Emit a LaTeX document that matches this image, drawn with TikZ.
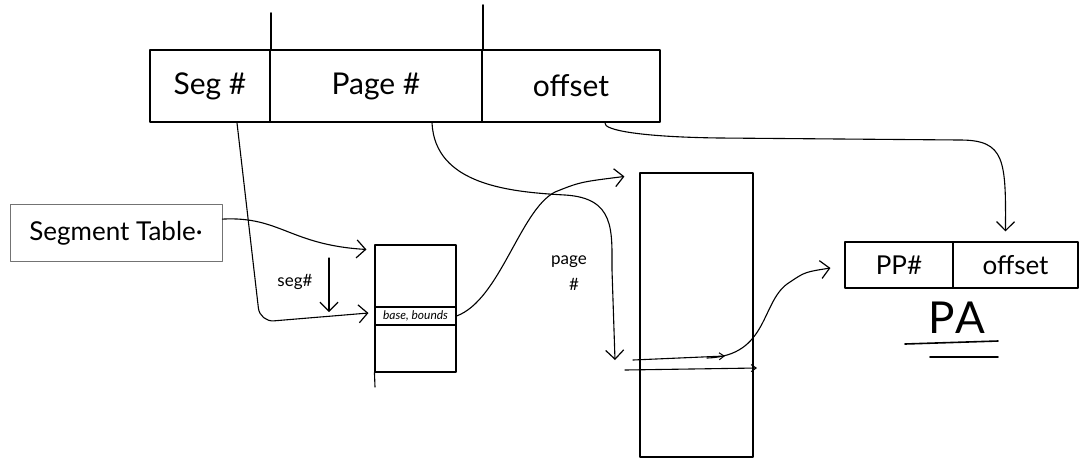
\documentclass[tikz,border=0pt]{standalone}
\usepackage{fontspec}
\setmainfont{Lato}
\usetikzlibrary{arrows.meta,calc}
\begin{document}
\begin{tikzpicture}[x=1pt,y=-1pt, line cap=round, line join=round,
  thick box/.style={draw, line width=1.8pt, inner sep=0pt},
  thin box/.style={draw, line width=1.1pt, inner sep=0pt},
  faint box/.style={draw=black!55, line width=0.8pt, inner sep=0pt},
  conn/.style={line width=1.1pt, -{Straight Barb[length=9pt,width=18pt,line width=1.2pt]}},
  small conn/.style={line width=1.1pt, -{Straight Barb[length=5pt,width=7pt,line width=1pt]}},
  big/.style={font=\fontsize{30}{36}\selectfont},
  mid/.style={font=\fontsize{26}{30}\selectfont},
  lab/.style={font=\fontsize{17}{18}\selectfont, inner sep=1pt}]
\useasboundingbox (0,0) rectangle (1089,459);

% virtual address
\node[thick box, minimum width=120pt, minimum height=72pt, big] (seg) at (210,86) {Seg \#};
\node[thick box, minimum width=212pt, minimum height=72pt, big] (page) at (376,86) {Page \#};
\node[thick box, minimum width=178pt, minimum height=72pt, big] (off) at (571,86) {offset};
\draw[line width=1.8pt] (seg.north east) -- ++(0,-36);
\draw[line width=1.8pt] (page.north east) -- ++(0,-44);

% segment table label
\node[faint box, minimum width=212pt, minimum height=57pt, mid] (st) at (116,233) {Segment Table·};

% segment table
\node[thin box, minimum width=81pt, minimum height=62pt] (segtop) at (415.5,276) {};
\node[thin box, minimum width=81pt, minimum height=18pt, font=\fontsize{12}{13}\selectfont\itshape] (segrow) at (415.5,316) {base, bounds};
\node[thin box, minimum width=81pt, minimum height=47pt] (segbot) at (415.5,348.5) {};
\coordinate (segleft) at (375,387);
\draw[line width=1.1pt] (segbot.south west) -- (segleft);

\node[lab] (seglab) at (295,282) {seg\#};
\coordinate (sa1) at (329,258);
\coordinate (sa2) at (329,312);
\draw[conn] (sa1) -- (sa2);

% page table
\node[thin box, minimum width=113pt, minimum height=284pt] (pt) at (696.5,315) {};
\node[lab] (pagelab) at (569,262) {page};
\node[lab] (pagenum) at (574,284) {\#};
\coordinate (r1a) at (633,360);
\coordinate (r1b) at (725,356);
\coordinate (r2a) at (625,370);
\coordinate (r2b) at (757,368);
\draw[small conn] (r1a) -- (r1b);
\draw[small conn] (r2a) -- (r2b);

% physical address
\node[thin box, minimum width=108pt, minimum height=46pt, mid] (ppn) at (899,265) {PP\#};
\node[thin box, minimum width=125pt, minimum height=46pt, mid] (paoff) at (1015.5,265) {offset};
\node[font=\fontsize{44}{50}\selectfont\addfontfeature{LetterSpace=8}, inner sep=0pt] (pa) at (957,318) {PA};
\coordinate (u1a) at (905,344);
\coordinate (u1b) at (998,341);
\coordinate (u2a) at (930,357);
\coordinate (u2b) at (998,357);
\draw[line width=1.6pt] (u1a) -- (u1b);
\draw[line width=1.6pt] (u2a) -- (u2b);

% connectors
\coordinate (c1s) at ($(st.north east)+(0,15)$);
\coordinate (c1e) at ($(segtop.north west)+(-8,5)$);
\draw[conn] (c1s) .. controls (280,216) and (290,245) .. (c1e);

\coordinate (c2s) at ($(seg.south)+(27,0)$);
\coordinate (c2e) at ($(segrow.west)+(-6,-3)$);
\draw[conn, rounded corners=14pt] (c2s) -- (260,322) -- (c2e);

\coordinate (c3e) at ($(pt.north west)+(-15,4)$);
\draw[conn] (segrow.east) .. controls (500,300) and (520,210) .. (555,192) .. controls (580,182) .. (c3e);

\coordinate (c4s) at ($(page.south)+(56,0)$);
\coordinate (c4e) at (615,360);
\draw[conn] (c4s) .. controls (435,185) and (510,192) .. (565,195) .. controls (615,198) and (612,230) .. (612,270) -- (c4e);

\coordinate (c5s) at ($(off.south)+(34,0)$);
\coordinate (c5e) at ($(paoff.north west)+(53,-10)$);
\draw[conn] (c5s) .. controls (603,130) and (640,137) .. (720,138) -- (960,140) .. controls (1005,140) and (1006,160) .. (c5e);

\coordinate (c6s) at (707,358);
\coordinate (c6e) at ($(ppn.west)+(-14,3)$);
\draw[conn] (c6s) .. controls (770,356) and (760,300) .. (790,282) .. controls (805,272) .. (c6e);
\end{tikzpicture}
\end{document}
